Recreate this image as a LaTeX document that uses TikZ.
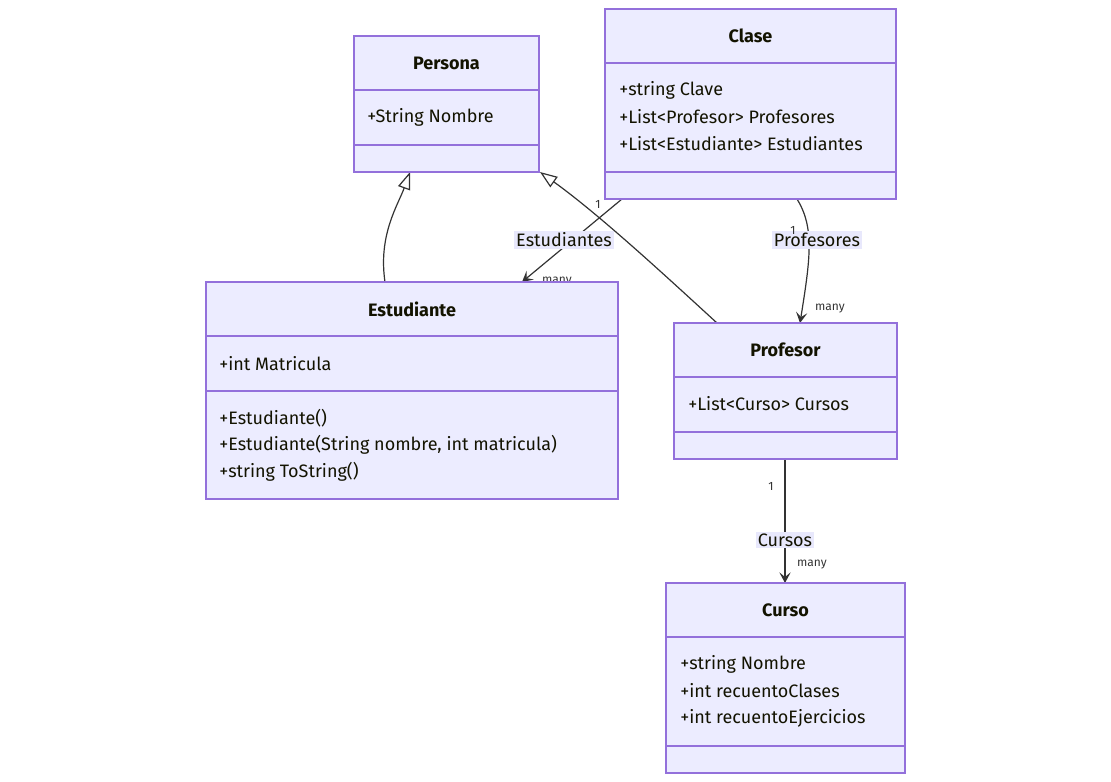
\documentclass[tikz,border=0pt]{standalone}
\usepackage{fontspec}
\setmainfont{Fira Sans}
\usetikzlibrary{arrows.meta,fit}
\definecolor{boxfill}{HTML}{ECECFF}
\definecolor{boxdraw}{HTML}{9370DB}
\definecolor{lnk}{HTML}{333333}
\definecolor{lblbg}{HTML}{E8E8FC}
\definecolor{txt}{HTML}{131300}
\begin{document}
\begin{tikzpicture}[x=0.75pt,y=-0.75pt,
  umlbox/.style={draw=boxdraw, fill=boxfill, line width=0.9pt, inner sep=0pt},
  divider/.style={draw=boxdraw, line width=0.9pt},
  title/.style={font=\fontsize{13.5}{15}\selectfont\bfseries, text=txt},
  attr/.style={anchor=west, font=\fontsize{13.5}{15}\selectfont, text=txt, inner sep=0pt},
  link/.style={draw=lnk, line width=0.9pt},
  assoc/.style={link, -{Stealth[length=8pt,width=8.5pt,inset=3.5pt]}},
  inherit/.style={link, -{Triangle[open, fill=white, length=13pt, width=9.5pt]}},
  elabel/.style={fill=lblbg, inner sep=1.5pt, font=\fontsize{13.5}{15}\selectfont, text=txt},
  card/.style={font=\fontsize{9}{10}\selectfont, text=lnk, inner sep=0pt}
]
\useasboundingbox (0,0) rectangle (1111,782);

% named coordinates for connector ends
\coordinate (pA) at (410,172);
\coordinate (pB) at (540,172);
\coordinate (eTop) at (385,282);
\coordinate (eArr) at (522,282);
\coordinate (prTop) at (717,323);
\coordinate (prArr) at (800,323);
\coordinate (cE) at (622,199);
\coordinate (cP) at (797,199);
\coordinate (prBot) at (785,459);
\coordinate (cuTop) at (785,583);

% connectors
\draw[inherit] (eTop) .. controls (378,235) and (398,205) .. (pA);
\draw[inherit] (prTop) .. controls (670,280) and (600,215) .. (pB);
\draw[assoc] (cE) -- (eArr);
\draw[assoc] (cP) .. controls (815,228) and (810,260) .. (prArr);
\draw[assoc] (prBot) -- (cuTop);

% edge labels
\node[elabel] (lEst) at (564,240) {Estudiantes};
\node[elabel] (lProf) at (817,240) {Profesores};
\node[elabel] (lCur) at (785,540) {Cursos};

% cardinalities
\node[card] (c1) at (598,204) {1};
\node[card] (c2) at (557,282) {many};
\node[card] (c3) at (793,230) {1};
\node[card] (c4) at (830,309) {many};
\node[card] (c5) at (771,486) {1};
\node[card] (c6) at (812,565) {many};

% Persona
\node[umlbox, fit={(354,36) (539,172)}] (persona) {};
\draw[divider] (354,90) -- (539,90);
\draw[divider] (354,145) -- (539,145);
\node[title] (personaT) at (446.5,63) {Persona};
\node[attr] (personaA1) at (367,117) {+String Nombre};

% Clase
\node[umlbox, fit={(605,9) (896,199)}] (clase) {};
\draw[divider] (605,63) -- (896,63);
\draw[divider] (605,172) -- (896,172);
\node[title] (claseT) at (750.5,36) {Clase};
\node[attr] (claseA1) at (619,90) {+string Clave};
\node[attr] (claseA2) at (619,117) {+List<Profesor> Profesores};
\node[attr] (claseA3) at (619,144) {+List<Estudiante> Estudiantes};

% Estudiante
\node[umlbox, fit={(206,282) (618,499)}] (estudiante) {};
\draw[divider] (206,336) -- (618,336);
\draw[divider] (206,391) -- (618,391);
\node[title] (estT) at (412,309) {Estudiante};
\node[attr] (estA1) at (219,364) {+int Matricula};
\node[attr] (estM1) at (219,418) {+Estudiante()};
\node[attr] (estM2) at (219,445) {+Estudiante(String nombre, int matricula)};
\node[attr] (estM3) at (219,472) {+string ToString()};

% Profesor
\node[umlbox, fit={(674,323) (897,459)}] (profesor) {};
\draw[divider] (674,377) -- (897,377);
\draw[divider] (674,432) -- (897,432);
\node[title] (profT) at (785.5,350) {Profesor};
\node[attr] (profA1) at (688,404) {+List<Curso> Cursos};

% Curso
\node[umlbox, fit={(666,583) (905,773)}] (curso) {};
\draw[divider] (666,637) -- (905,637);
\draw[divider] (666,746) -- (905,746);
\node[title] (cursoT) at (785.5,610) {Curso};
\node[attr] (cursoA1) at (680,664) {+string Nombre};
\node[attr] (cursoA2) at (680,691) {+int recuentoClases};
\node[attr] (cursoA3) at (680,718) {+int recuentoEjercicios};
\end{tikzpicture}
\end{document}
